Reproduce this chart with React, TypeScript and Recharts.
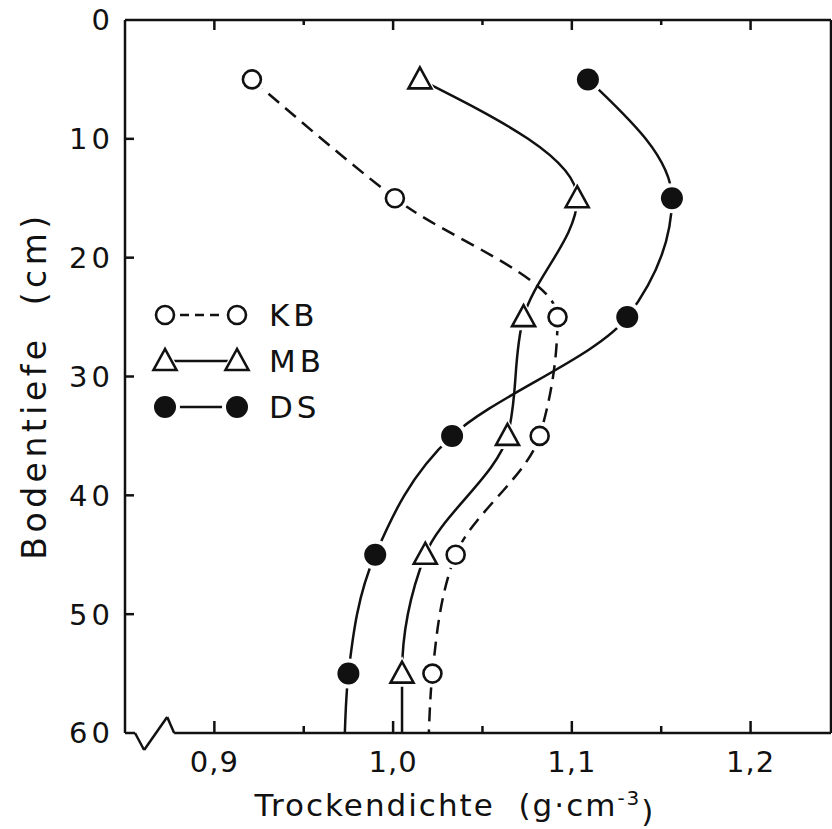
import { LineChart, Line, XAxis, YAxis, Legend, ReferenceLine, Label } from "recharts"

// Bodentiefe (cm), Mitte der Schicht; 60 = Verlängerung bis zum Rand, ohne Symbol
const depthCm = [5, 15, 25, 35, 45, 55, 60]
const measured = [true, true, true, true, true, true, false]

// Trockendichte (g/cm3)
const kbDensity = [0.921, 1.001, 1.092, 1.082, 1.035, 1.022, 1.02]
const mbDensity = [1.015, 1.103, 1.073, 1.064, 1.018, 1.005, 1.005]
const dsDensity = [1.109, 1.156, 1.131, 1.033, 0.99, 0.975, 0.973]

const xTicks = [0.9, 0.95, 1.0, 1.05, 1.1, 1.15, 1.2]
const xTickLabels = ["0,9", "", "1,0", "", "1,1", "", "1,2"]
const yTicks = [0, 10, 20, 30, 40, 50, 60]

// x-axis break (zigzag) at the lower left corner
const axisBreak = [
  { x: 0.85, y: 60 },
  { x: 0.8556, y: 60 },
  { x: 0.8607, y: 61.43 },
  { x: 0.8736, y: 58.65 },
  { x: 0.8775, y: 60 },
  { x: 1.245, y: 60 },
]

const FONT = "'DejaVu Sans', sans-serif"
const INK = "#111"

type MarkerKind = "circle" | "triangle" | "dot"

const series: { name: string; values: number[]; marker: MarkerKind; dash?: string; legendDash?: string }[] = [
  { name: "KB", values: kbDensity, marker: "circle", dash: "14 8", legendDash: "9 6" },
  { name: "MB", values: mbDensity, marker: "triangle" },
  { name: "DS", values: dsDensity, marker: "dot" },
]

function toRows(values: number[]) {
  return depthCm.map((depth, i) => ({ depth, rho: values[i], measured: measured[i] }))
}

function Marker({ kind, cx, cy }: { kind: MarkerKind; cx: number; cy: number }) {
  if (kind === "circle") {
    return (
      <g>
        <circle cx={cx} cy={cy} r={14} fill="#fff" />
        <circle cx={cx} cy={cy} r={9} fill="#fff" stroke={INK} strokeWidth={2.6} />
      </g>
    )
  }
  if (kind === "triangle") {
    const tri = (s: number) =>
      `${cx},${cy - 12 * s} ${cx - 11.5 * s},${cy + 9 * s} ${cx + 11.5 * s},${cy + 9 * s}`
    return (
      <g>
        <polygon points={tri(1.45)} fill="#fff" />
        <polygon points={tri(1)} fill="#fff" stroke={INK} strokeWidth={2.6} strokeLinejoin="miter" />
      </g>
    )
  }
  return (
    <g>
      <circle cx={cx} cy={cy} r={15} fill="#fff" />
      <circle cx={cx} cy={cy} r={11} fill={INK} />
    </g>
  )
}

function LegendBox() {
  return (
    <svg width={230} height={140} style={{ display: "block" }}>
      {series.map((s, i) => {
        const cy = 18 + i * 46
        return (
          <g key={s.name}>
            <line x1={15} x2={87} y1={cy} y2={cy} stroke={INK} strokeWidth={2.5} strokeDasharray={s.legendDash} />
            <Marker kind={s.marker} cx={15} cy={cy} />
            <Marker kind={s.marker} cx={87} cy={cy} />
            <text x={119} y={cy} dy="0.36em" fontFamily={FONT} fontSize={31} letterSpacing={4} fill={INK}>
              {s.name}
            </text>
          </g>
        )
      })}
    </svg>
  )
}

// eslint-disable-next-line @typescript-eslint/no-explicit-any
function BottomTick({ x, y, payload }: any) {
  const i = xTicks.indexOf(payload.value)
  const label = xTickLabels[i] ?? ""
  const len = label ? 12 : 7
  return (
    <g>
      <line x1={x} x2={x} y1={y} y2={y - len} stroke={INK} strokeWidth={2.5} />
      {label && (
        <text x={x} y={y + 39} textAnchor="middle" fontFamily={FONT} fontSize={29} letterSpacing={1} fill={INK}>
          {label}
        </text>
      )}
    </g>
  )
}

// eslint-disable-next-line @typescript-eslint/no-explicit-any
function TopTick({ x, y, payload }: any) {
  const i = xTicks.indexOf(payload.value)
  const len = xTickLabels[i] ? 10 : 5
  return <line x1={x} x2={x} y1={y} y2={y + len} stroke={INK} strokeWidth={2.5} />
}

// eslint-disable-next-line @typescript-eslint/no-explicit-any
function LeftTick({ x, y, payload }: any) {
  const inner = payload.value > 0 && payload.value < 60
  return (
    <g>
      {inner && <line x1={x} x2={x + 9} y1={y} y2={y} stroke={INK} strokeWidth={2.5} />}
      <text x={x - 11} y={y} dy="0.36em" textAnchor="end" fontFamily={FONT} fontSize={29} letterSpacing={4} fill={INK}>
        {payload.value}
      </text>
    </g>
  )
}

// eslint-disable-next-line @typescript-eslint/no-explicit-any
function RightTick({ x, y, payload }: any) {
  if (payload.value <= 0 || payload.value >= 60) return <g />
  return <line x1={x} x2={x - 10} y1={y} y2={y} stroke={INK} strokeWidth={2.5} />
}

// eslint-disable-next-line @typescript-eslint/no-explicit-any
function YTitle({ viewBox }: any) {
  const cx = viewBox.x + 9
  const cy = viewBox.y + viewBox.height / 2 + 9
  return (
    <text
      x={cx}
      y={cy}
      transform={`rotate(-90, ${cx}, ${cy})`}
      textAnchor="middle"
      dy="0.36em"
      fontFamily={FONT}
      fontSize={33}
      letterSpacing={4.5}
      fill={INK}
      style={{ whiteSpace: "pre" }}
    >
      {"Bodentiefe  (cm)"}
    </text>
  )
}

// eslint-disable-next-line @typescript-eslint/no-explicit-any
function XTitle({ viewBox }: any) {
  const cx = viewBox.x + viewBox.width / 2 - 23
  const cy = viewBox.y + 72
  return (
    <text x={cx} y={cy} dy="0.36em" textAnchor="middle" fontFamily={FONT} fontSize={31} letterSpacing={2} fill={INK} style={{ whiteSpace: "pre" }}>
      {"Trockendichte  (g·cm"}
      <tspan dy="-0.55em" fontSize={20}>-3</tspan>
      <tspan dy="0.55em">)</tspan>
    </text>
  )
}

export default function App() {
  return (
    <div style={{ position: "absolute", left: 0, top: 0, width: 832, height: 829, background: "#fff" }}>
      <LineChart
        width={832}
        height={829}
        layout="vertical"
        margin={{ top: 19, right: 0, bottom: 0, left: 25 }}
      >
        <XAxis
          type="number"
          domain={[0.85, 1.245]}
          allowDataOverflow
          ticks={xTicks}
          interval={0}
          height={96}
          tickSize={0}
          tickMargin={0}
          axisLine={false}
          tickLine={false}
          tick={<BottomTick />}
        >
          <Label content={<XTitle />} />
        </XAxis>
        <XAxis
          xAxisId="top"
          orientation="top"
          type="number"
          domain={[0.85, 1.245]}
          allowDataOverflow
          ticks={xTicks}
          interval={0}
          height={1}
          tickSize={0}
          tickMargin={0}
          axisLine={{ stroke: INK, strokeWidth: 2.5 }}
          tickLine={false}
          tick={<TopTick />}
        />
        <YAxis
          type="number"
          dataKey="depth"
          domain={[0, 60]}
          allowDataOverflow
          ticks={yTicks}
          interval={0}
          width={100}
          tickSize={0}
          tickMargin={0}
          axisLine={{ stroke: INK, strokeWidth: 2.5 }}
          tickLine={false}
          tick={<LeftTick />}
        >
          <Label content={<YTitle />} />
        </YAxis>
        <YAxis
          yAxisId="right"
          orientation="right"
          type="number"
          domain={[0, 60]}
          allowDataOverflow
          ticks={yTicks}
          interval={0}
          width={1}
          tickSize={0}
          tickMargin={0}
          axisLine={{ stroke: INK, strokeWidth: 2.5 }}
          tickLine={false}
          tick={<RightTick />}
        />
        {axisBreak.slice(1).map((p, i) => (
          <ReferenceLine
            key={i}
            segment={[axisBreak[i], p]}
            ifOverflow="visible"
            stroke={INK}
            strokeWidth={2.5}
          />
        ))}
        {series.map((s) => (
          <Line
            key={s.name}
            name={s.name}
            data={toRows(s.values)}
            dataKey="rho"
            type="monotone"
            stroke={INK}
            strokeWidth={2.5}
            strokeDasharray={s.dash}
            isAnimationActive={false}
            activeDot={false}
            // eslint-disable-next-line @typescript-eslint/no-explicit-any
            dot={(p: any) =>
              p.payload.measured ? (
                <Marker key={p.index} kind={s.marker} cx={p.cx} cy={p.cy} />
              ) : (
                <g key={p.index} />
              )
            }
          />
        ))}
        <Legend
          layout="vertical"
          align="center"
          verticalAlign="middle"
          wrapperStyle={{ left: 150, top: 297, width: 230 }}
          content={() => <LegendBox />}
        />
      </LineChart>
    </div>
  )
}
